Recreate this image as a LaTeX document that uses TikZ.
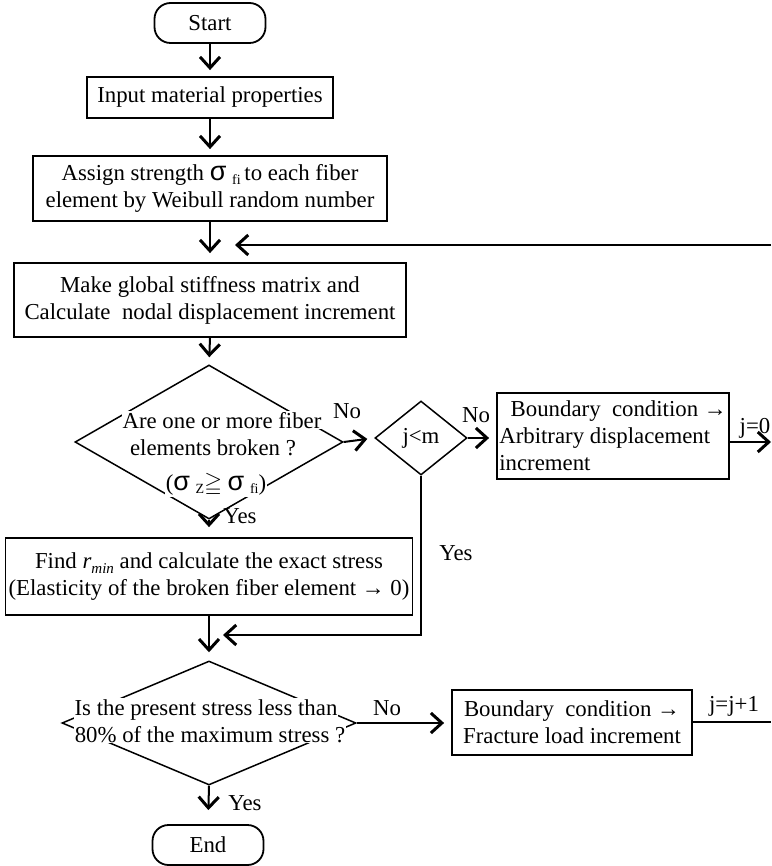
\documentclass[tikz,border=0pt]{standalone}
\usepackage{fontspec}
\usepackage{amssymb}
\setmainfont{Liberation Serif}
\newfontfamily\symfam{Liberation Sans}
\usetikzlibrary{shapes.geometric,arrows.meta}
\newcommand{\sigm}{{\symfam\fontsize{27}{27}\selectfont σ}}
\newcommand{\lowsub}[1]{\raisebox{-0.35ex}{\fontsize{14}{14}\selectfont #1}}
\begin{document}
\begin{tikzpicture}[x=1pt,y=-1pt,
  every node/.style={font={\fontsize{22.8}{27}\selectfont}},
  box/.style={draw, line width=1.8pt, inner sep=2pt, align=center},
  term/.style={box, rounded corners=16pt},
  dia/.style={draw, diamond, line width=1.5pt, inner sep=0pt},
  dtxt/.style={fill=white, inner sep=1pt, anchor=base},
  lbl/.style={inner sep=0pt, anchor=base},
  arr/.style={line width=2pt, -{Straight Barb[length=11pt,width=20pt,line width=3pt]}},
  plain/.style={line width=2pt}
]
\useasboundingbox (0,0) rectangle (771,866);

% main column
\node[term, minimum width=111pt, minimum height=40pt] (start) at (210,23) {Start};
\node[box, minimum width=246pt, minimum height=41pt] (input) at (210,97.5) {Input material properties};
\node[box, minimum width=354pt, minimum height=65pt] (assign) at (210,188.5)
  {Assign strength \sigm\ \lowsub{fi}\,to each fiber\\element by Weibull random number};
\node[box, minimum width=392pt, minimum height=74pt] (make) at (210,300)
  {Make global stiffness matrix and\\Calculate\ \ nodal displacement increment};
\node[dia, minimum width=268pt, minimum height=154pt] (d1) at (209,442) {};
\node[dtxt] (d1a) at (222,428) {Are one or more fiber};
\node[dtxt] (d1b) at (213,455) {elements broken ?};
\node[dtxt] (d1c) at (216,490) {(\sigm\ \lowsub{Z}$\geqq$\ \sigm\ \lowsub{fi})};
\node[dia, minimum width=92pt, minimum height=74pt] (jm) at (421,438) {j<m};
\node[box, minimum width=232pt, minimum height=86pt, align=left] (b1) at (613,436)
  {\ \ Boundary\ \ condition →\\Arbitrary displacement\\increment};
\node[box, minimum width=407pt, minimum height=77pt] (find) at (209,576.5)
  {Find \textit{r}\raisebox{-0.45ex}{\fontsize{15}{15}\selectfont\itshape min} and calculate the exact stress\\(Elasticity of the broken fiber element → 0)};
\node[dia, minimum width=294pt, minimum height=124pt] (d2) at (209,723) {};
\node[dtxt] (d2a) at (206,715) {Is the present stress less than};
\node[dtxt] (d2b) at (210,742) {80\% of the maximum stress ?};
\node[box, minimum width=240pt, minimum height=65pt] (b2) at (572,722.5)
  {Boundary\ \ condition →\\Fracture load increment};
\node[term, minimum width=111pt, minimum height=40pt] (end) at (208,845) {End};

% free ends
\coordinate (loopR) at (771,245);
\coordinate (loopin) at (235,245);
\coordinate (exit1) at (771,442);
\coordinate (exit2) at (771,722);
\coordinate (merge) at (223,635);

% connectors
\draw[arr, shorten >=6pt] (start.south) -- (input.north);
\draw[arr, shorten >=6pt] (input.south) -- (assign.north);
\draw[arr, shorten >=9pt] (assign.south) -- (make.north);
\draw[arr] (loopR) -- (loopin);
\draw[arr, shorten >=7pt] (make.south) -- (d1.north);
\draw[arr, shorten >=7pt] (d1.east) -- (jm.west);
\draw[arr, shorten >=7pt] (jm.east) -- (jm.east -| b1.west);
\draw[arr] (b1.east |- exit1) -- (exit1);
\draw[arr, shorten >=10pt] (d1.south) -- (find.north);
\draw[arr] (jm.south) |- (merge);
\draw[arr, shorten >=8pt] (find.south) -- (d2.north);
\draw[arr, shorten >=7pt] (d2.east) -- (d2.east -| b2.west);
\draw[plain] (b2.east |- exit2) -- (exit2);
\draw[arr, shorten >=14pt] (d2.south) -- (end.north);

% labels
\node[lbl] at (347,418) {No};
\node[lbl] at (476,422) {No};
\node[lbl] at (387,715) {No};
\node[lbl] at (240,523) {Yes};
\node[lbl] at (456,560) {Yes};
\node[lbl] at (245,810) {Yes};
\node[lbl] at (755,433) {j=0};
\node[lbl] at (734,711) {j=j+1};
\end{tikzpicture}
\end{document}
